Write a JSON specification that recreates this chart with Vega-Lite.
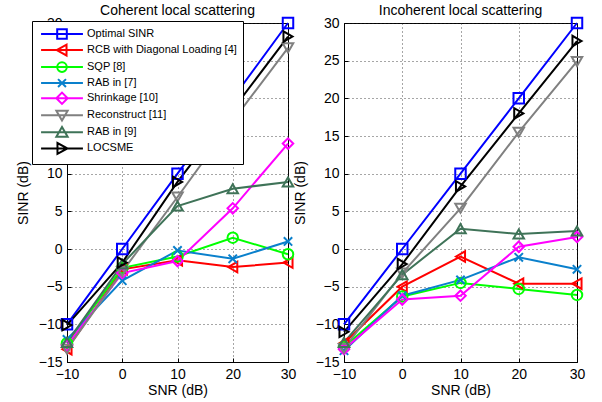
{
  "$schema": "https://vega.github.io/schema/vega-lite/v6.json",
  "padding": {"left": 15, "top": 3, "right": 5, "bottom": 5},
  "spacing": 56,
  "bounds": "flush",
  "resolve": {"scale": {"color": "independent", "shape": "independent"}},
  "data": {"values": [
    {"p":"C","m":"Optimal SINR","x":-10,"y":-10},{"p":"C","m":"Optimal SINR","x":0,"y":0},{"p":"C","m":"Optimal SINR","x":10,"y":10},{"p":"C","m":"Optimal SINR","x":20,"y":20},{"p":"C","m":"Optimal SINR","x":30,"y":30},
    {"p":"C","m":"RCB with Diagonal Loading [4]","x":-10,"y":-13.3},{"p":"C","m":"RCB with Diagonal Loading [4]","x":0,"y":-2.7},{"p":"C","m":"RCB with Diagonal Loading [4]","x":10,"y":-1.5},{"p":"C","m":"RCB with Diagonal Loading [4]","x":20,"y":-2.4},{"p":"C","m":"RCB with Diagonal Loading [4]","x":30,"y":-1.8},
    {"p":"C","m":"SQP [8]","x":-10,"y":-12.5},{"p":"C","m":"SQP [8]","x":0,"y":-2.5},{"p":"C","m":"SQP [8]","x":10,"y":-1},{"p":"C","m":"SQP [8]","x":20,"y":1.5},{"p":"C","m":"SQP [8]","x":30,"y":-0.7},
    {"p":"C","m":"RAB in [7]","x":-10,"y":-12},{"p":"C","m":"RAB in [7]","x":0,"y":-4.2},{"p":"C","m":"RAB in [7]","x":10,"y":-0.2},{"p":"C","m":"RAB in [7]","x":20,"y":-1.3},{"p":"C","m":"RAB in [7]","x":30,"y":1},
    {"p":"C","m":"Shrinkage [10]","x":-10,"y":-12.8},{"p":"C","m":"Shrinkage [10]","x":0,"y":-3.2},{"p":"C","m":"Shrinkage [10]","x":10,"y":-1.6},{"p":"C","m":"Shrinkage [10]","x":20,"y":5.4},{"p":"C","m":"Shrinkage [10]","x":30,"y":14},
    {"p":"C","m":"Reconstruct [11]","x":-10,"y":-13.3},{"p":"C","m":"Reconstruct [11]","x":0,"y":-3},{"p":"C","m":"Reconstruct [11]","x":10,"y":6.9},{"p":"C","m":"Reconstruct [11]","x":20,"y":17},{"p":"C","m":"Reconstruct [11]","x":30,"y":26.7},
    {"p":"C","m":"RAB in [9]","x":-10,"y":-12.4},{"p":"C","m":"RAB in [9]","x":0,"y":-2},{"p":"C","m":"RAB in [9]","x":10,"y":5.7},{"p":"C","m":"RAB in [9]","x":20,"y":8},{"p":"C","m":"RAB in [9]","x":30,"y":8.9},
    {"p":"C","m":"LOCSME","x":-10,"y":-10.1},{"p":"C","m":"LOCSME","x":0,"y":-1.8},{"p":"C","m":"LOCSME","x":10,"y":8.9},{"p":"C","m":"LOCSME","x":20,"y":18.5},{"p":"C","m":"LOCSME","x":30,"y":28.2},
    {"p":"I","m":"Optimal SINR","x":-10,"y":-10},{"p":"I","m":"Optimal SINR","x":0,"y":0},{"p":"I","m":"Optimal SINR","x":10,"y":10},{"p":"I","m":"Optimal SINR","x":20,"y":20},{"p":"I","m":"Optimal SINR","x":30,"y":30},
    {"p":"I","m":"RCB with Diagonal Loading [4]","x":-10,"y":-12.5},{"p":"I","m":"RCB with Diagonal Loading [4]","x":0,"y":-5},{"p":"I","m":"RCB with Diagonal Loading [4]","x":10,"y":-1},{"p":"I","m":"RCB with Diagonal Loading [4]","x":20,"y":-4.6},{"p":"I","m":"RCB with Diagonal Loading [4]","x":30,"y":-4.6},
    {"p":"I","m":"SQP [8]","x":-10,"y":-13},{"p":"I","m":"SQP [8]","x":0,"y":-6.3},{"p":"I","m":"SQP [8]","x":10,"y":-4.5},{"p":"I","m":"SQP [8]","x":20,"y":-5.3},{"p":"I","m":"SQP [8]","x":30,"y":-6.1},
    {"p":"I","m":"RAB in [7]","x":-10,"y":-13.5},{"p":"I","m":"RAB in [7]","x":0,"y":-6.2},{"p":"I","m":"RAB in [7]","x":10,"y":-4.1},{"p":"I","m":"RAB in [7]","x":20,"y":-1.1},{"p":"I","m":"RAB in [7]","x":30,"y":-2.7},
    {"p":"I","m":"Shrinkage [10]","x":-10,"y":-13.3},{"p":"I","m":"Shrinkage [10]","x":0,"y":-6.7},{"p":"I","m":"Shrinkage [10]","x":10,"y":-6.2},{"p":"I","m":"Shrinkage [10]","x":20,"y":0.3},{"p":"I","m":"Shrinkage [10]","x":30,"y":1.6},
    {"p":"I","m":"Reconstruct [11]","x":-10,"y":-13.2},{"p":"I","m":"Reconstruct [11]","x":0,"y":-3.2},{"p":"I","m":"Reconstruct [11]","x":10,"y":5.4},{"p":"I","m":"Reconstruct [11]","x":20,"y":15.5},{"p":"I","m":"Reconstruct [11]","x":30,"y":24.9},
    {"p":"I","m":"RAB in [9]","x":-10,"y":-12.4},{"p":"I","m":"RAB in [9]","x":0,"y":-3.4},{"p":"I","m":"RAB in [9]","x":10,"y":2.7},{"p":"I","m":"RAB in [9]","x":20,"y":2},{"p":"I","m":"RAB in [9]","x":30,"y":2.4},
    {"p":"I","m":"LOCSME","x":-10,"y":-11},{"p":"I","m":"LOCSME","x":0,"y":-2},{"p":"I","m":"LOCSME","x":10,"y":8.3},{"p":"I","m":"LOCSME","x":20,"y":18},{"p":"I","m":"LOCSME","x":30,"y":27.6}
  ]},
  "config": {
    "font": "Liberation Sans",
    "view": {"stroke": "black", "strokeWidth": 1},
    "axis": {"grid": true, "gridDash": [1, 3], "gridColor": "#222", "gridOpacity": 0.8, "domainColor": "black", "tickColor": "black", "tickSize": -4, "labelPadding": 9, "labelFontSize": 14, "labelColor": "black", "labelFlush": false, "titleFontSize": 14, "titleFontWeight": "normal", "titleColor": "black"},
    "title": {"fontSize": 14, "fontWeight": "normal", "offset": -4, "frame": "group", "color": "black"}
  },
  "hconcat": [
    {
      "title": "Coherent local scattering",
      "width": 221, "height": 339,
      "transform": [{"filter": "datum.p === 'C'"}],
      "resolve": {"scale": {"color": "independent", "shape": "independent"}},
      "encoding": {
        "x": {"field": "x", "type": "quantitative", "scale": {"domain": [-10, 30], "nice": false}, "axis": {"values": [-10, 0, 10, 20, 30], "title": "SNR (dB)", "titlePadding": 2}},
        "y": {"field": "y", "type": "quantitative", "scale": {"domain": [-15, 30], "nice": false}, "axis": {"values": [-15, -10, -5, 0, 5, 10, 15, 20, 25, 30], "title": "SINR (dB)", "titlePadding": 8}}
      },
      "layer": [
        {"mark": {"type": "line", "strokeWidth": 2},
         "encoding": {"color": {"field": "m", "type": "nominal", "legend": null, "scale": {"domain": ["Optimal SINR", "RCB with Diagonal Loading [4]", "SQP [8]", "RAB in [7]", "Shrinkage [10]", "Reconstruct [11]", "RAB in [9]", "LOCSME"], "range": ["#0000ff", "#ff0000", "#00ff00", "#0a80cc", "#ff00ff", "#808080", "#3f7358", "#000000"]}}}},
        {"mark": {"type": "point", "filled": false, "strokeWidth": 2, "size": 110, "opacity": 1},
         "encoding": {
           "color": {"field": "m", "type": "nominal", "legend": null, "scale": {"domain": ["Optimal SINR", "RCB with Diagonal Loading [4]", "SQP [8]", "RAB in [7]", "Shrinkage [10]", "Reconstruct [11]", "RAB in [9]", "LOCSME"], "range": ["#0000ff", "#ff0000", "#00ff00", "#0a80cc", "#ff00ff", "#808080", "#3f7358", "#000000"]}},
           "shape": {"field": "m", "type": "nominal", "legend": null, "scale": {"domain": ["Optimal SINR", "RCB with Diagonal Loading [4]", "SQP [8]", "RAB in [7]", "Shrinkage [10]", "Reconstruct [11]", "RAB in [9]", "LOCSME"], "range": ["square", "triangle-left", "circle", "M-0.8,-0.8L0.8,0.8M-0.8,0.8L0.8,-0.8", "diamond", "triangle-down", "triangle-up", "triangle-right"]}}}},
        {"transform": [{"filter": "false"}],
         "mark": {"type": "point", "filled": false, "strokeWidth": 2, "opacity": 1},
         "encoding": {
           "color": {"field": "m", "type": "nominal",
             "scale": {"domain": ["Optimal SINR", "RCB with Diagonal Loading [4]", "SQP [8]", "RAB in [7]", "Shrinkage [10]", "Reconstruct [11]", "RAB in [9]", "LOCSME"], "range": ["#0000ff", "#ff0000", "#00ff00", "#0a80cc", "#ff00ff", "#808080", "#3f7358", "#000000"]},
             "legend": {"orient": "none", "legendX": -35, "legendY": -2, "title": null, "fillColor": "white", "strokeColor": "black", "padding": 6, "symbolSize": 128, "symbolStrokeWidth": 2, "symbolOffset": 17, "labelOffset": 18, "labelFontSize": 11, "labelColor": "black", "rowPadding": -2.9}},
           "shape": {"field": "m", "type": "nominal",
             "scale": {"domain": ["Optimal SINR", "RCB with Diagonal Loading [4]", "SQP [8]", "RAB in [7]", "Shrinkage [10]", "Reconstruct [11]", "RAB in [9]", "LOCSME"], "range": ["M-3.7,0H3.7M-0.85,-0.85H0.85V0.85H-0.85Z", "M-3.7,0H3.7M-0.95,0L0.8,-0.95L0.8,0.95Z", "M-3.7,0H3.7M-0.85,0A0.85,0.85,0,1,0,0.85,0A0.85,0.85,0,1,0,-0.85,0Z", "M-3.7,0H3.7M-0.7,-0.7L0.7,0.7M-0.7,0.7L0.7,-0.7", "M-3.7,0H3.7M-1,0L0,-1L1,0L0,1Z", "M-3.7,0H3.7M-1,-0.8H1L0,0.95Z", "M-3.7,0H3.7M-1,0.8H1L0,-0.95Z", "M-3.7,0H3.7M0.95,0L-0.8,-0.95L-0.8,0.95Z"]},
             "legend": {"orient": "none", "legendX": -35, "legendY": -2, "title": null, "fillColor": "white", "strokeColor": "black", "padding": 6, "symbolSize": 128, "symbolStrokeWidth": 2, "symbolOffset": 17, "labelOffset": 18, "labelFontSize": 11, "labelColor": "black", "rowPadding": -2.9}}}}
      ]
    },
    {
      "title": "Incoherent local scattering",
      "width": 233, "height": 339,
      "transform": [{"filter": "datum.p === 'I'"}],
      "encoding": {
        "x": {"field": "x", "type": "quantitative", "scale": {"domain": [-10, 30], "nice": false}, "axis": {"values": [-10, 0, 10, 20, 30], "title": "SNR (dB)", "titlePadding": 2}},
        "y": {"field": "y", "type": "quantitative", "scale": {"domain": [-15, 30], "nice": false}, "axis": {"values": [-15, -10, -5, 0, 5, 10, 15, 20, 25, 30], "title": "SINR (dB)", "titlePadding": 8}},
        "color": {"field": "m", "type": "nominal", "legend": null, "scale": {"domain": ["Optimal SINR", "RCB with Diagonal Loading [4]", "SQP [8]", "RAB in [7]", "Shrinkage [10]", "Reconstruct [11]", "RAB in [9]", "LOCSME"], "range": ["#0000ff", "#ff0000", "#00ff00", "#0a80cc", "#ff00ff", "#808080", "#3f7358", "#000000"]}}
      },
      "layer": [
        {"mark": {"type": "line", "strokeWidth": 2}},
        {"mark": {"type": "point", "filled": false, "strokeWidth": 2, "size": 110, "opacity": 1},
         "encoding": {"shape": {"field": "m", "type": "nominal", "legend": null, "scale": {"domain": ["Optimal SINR", "RCB with Diagonal Loading [4]", "SQP [8]", "RAB in [7]", "Shrinkage [10]", "Reconstruct [11]", "RAB in [9]", "LOCSME"], "range": ["square", "triangle-left", "circle", "M-0.8,-0.8L0.8,0.8M-0.8,0.8L0.8,-0.8", "diamond", "triangle-down", "triangle-up", "triangle-right"]}}}}
      ]
    }
  ]
}
